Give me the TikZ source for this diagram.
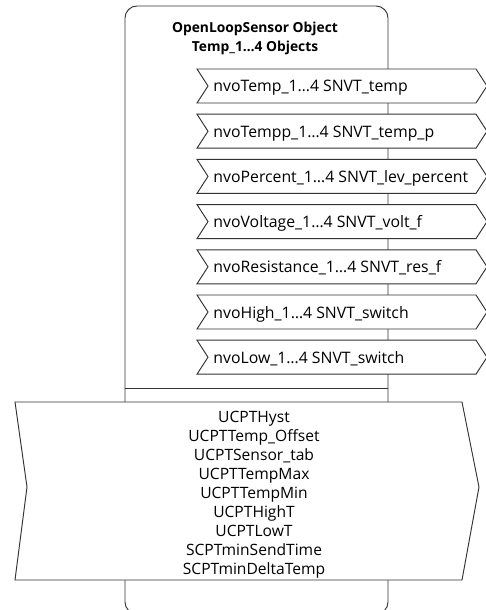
\documentclass[tikz,border=0pt]{standalone}
\usepackage{fontspec}
\setmainfont{Open Sans}
\begin{document}
\begin{tikzpicture}[x=1pt,y=-1pt,
  line width=0.95pt,
  lc/.style={draw=black!80},
  outbox/.style={lc, fill=white, line join=miter},
  outlabel/.style={anchor=base west, inner sep=0pt, font=\fontsize{15.8}{16}\selectfont},
  cfglabel/.style={align=center, inner sep=0pt, font=\fontsize{15.6}{18.9}\selectfont},
  titlelabel/.style={align=center, inner sep=0pt, font=\fontsize{13.8}{19}\selectfont\bfseries}]
\useasboundingbox (0,0) rectangle (486,610);
% main object box
\draw[lc, rounded corners=12pt] (125,6) rectangle (388,614);
% base anchor of a multi-line node = baseline of its last line
\node[titlelabel, anchor=base] (title) at (255,52) {OpenLoopSensor Object\\Temp\_1…4 Objects};
\draw[lc] (125,388.5) -- (388,388.5);
% output network variables
\foreach \i/\t in {0/{nvoTemp\_1…4 SNVT\_temp},
                   1/{nvoTempp\_1…4 SNVT\_temp\_p},
                   2/{nvoPercent\_1…4 SNVT\_lev\_percent},
                   3/{nvoVoltage\_1…4 SNVT\_volt\_f},
                   4/{nvoResistance\_1…4 SNVT\_res\_f},
                   5/{nvoHigh\_1…4 SNVT\_switch},
                   6/{nvoLow\_1…4 SNVT\_switch}} {
  \pgfmathsetmacro\yc{86+45.2*\i}
  \draw[outbox] (197,\yc-17) -- (476,\yc-17) -- (487,\yc) -- (476,\yc+17)
     -- (197,\yc+17) -- (208,\yc) -- cycle;
  \node[outlabel] (o\i) at (213,\yc+6) {\t};
}
% configuration properties
\draw[outbox] (15,402) -- (462,402) -- (479,487) -- (462,580) -- (15,580) -- (27,487) -- cycle;
\node[cfglabel, anchor=base] (cfg) at (254,574) {UCPTHyst\\UCPTTemp\_Offset\\UCPTSensor\_tab\\UCPTTempMax\\UCPTTempMin\\UCPTHighT\\UCPTLowT\\SCPTminSendTime\\SCPTminDeltaTemp};
\end{tikzpicture}
\end{document}
